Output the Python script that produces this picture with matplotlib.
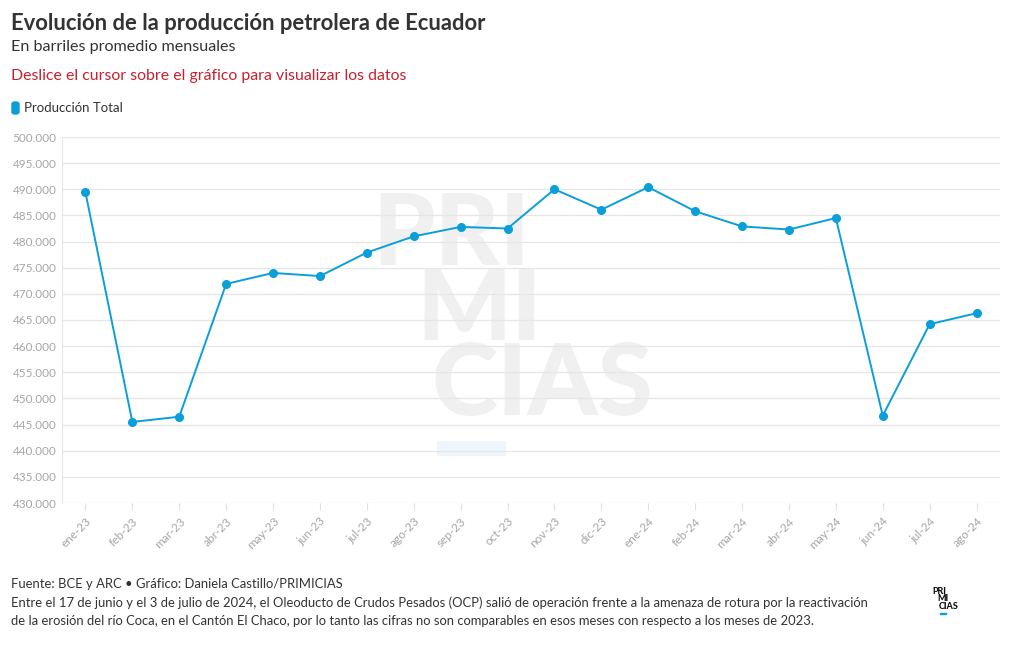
import numpy as np
import matplotlib.pyplot as plt
from matplotlib.patches import FancyBboxPatch, Rectangle

plt.rcParams['font.family'] = ['Lato', 'DejaVu Sans']

# Datos
meses = ['ene-23', 'feb-23', 'mar-23', 'abr-23', 'may-23', 'jun-23', 'jul-23',
         'ago-23', 'sep-23', 'oct-23', 'nov-23', 'dic-23', 'ene-24', 'feb-24',
         'mar-24', 'abr-24', 'may-24', 'jun-24', 'jul-24', 'ago-24']
produccion = [489400, 445500, 446500, 471900, 474000, 473400, 477900,
              481000, 482800, 482500, 490000, 486100, 490400, 485800,
              482900, 482300, 484500, 446700, 464200, 466300]
y_ticks = list(range(430000, 500001, 5000))

azul = '#0a9fd8'
gris_txt = '#a6a6a6'

fig = plt.figure(figsize=(10.2, 6.5), dpi=100)
ax = fig.add_axes([62 / 1020, 1 - 503 / 650, 938 / 1020, 366 / 650])
ax.set_axisbelow(True)

x = np.arange(len(meses))
# marca de agua (debajo de la cuadrícula y la línea)
for txt, xx, yy in [('PRI', 372, 265), ('MI', 416, 340), ('CIAS', 432, 415)]:
    ax.text(xx / 1020, 1 - yy / 650, txt, fontsize=72, fontweight='black',
            color='#f0f0f0', ha='left', va='baseline', zorder=0.1,
            transform=fig.transFigure)
ax.add_patch(Rectangle((437 / 1020, 1 - 455 / 650), 68 / 1020, 14 / 650,
                       transform=fig.transFigure, color='#eef6fc', zorder=0.1))

ax.plot(x, produccion, color=azul, lw=1.4, marker='o', ms=5.5, zorder=3)

ax.set_ylim(430000, 500000)
ax.set_xlim(-0.5, len(meses) - 0.5)
ax.set_yticks(y_ticks)
ax.set_yticklabels([f'{v:,}'.replace(',', '.') for v in y_ticks])
ax.set_xticks(x)
ax.set_xticklabels(meses, rotation=45, ha='right', rotation_mode='anchor')
ax.grid(axis='y', color='#e6e6e6', lw=0.9)
ax.tick_params(axis='y', length=0, labelsize=8.5, labelcolor=gris_txt, pad=4)
ax.tick_params(axis='x', length=5, color='#e0e0e0', labelsize=8.5,
               labelcolor=gris_txt, pad=4)
for s in ['top', 'right', 'bottom']:
    ax.spines[s].set_visible(False)
ax.spines['left'].set_color('#e6e6e6')

# Títulos
fig.text(11 / 1020, 1 - 24 / 650, 'Evolución de la producción petrolera de Ecuador',
         fontsize=15.8, fontweight='bold', color='#333333', va='center')
fig.text(11 / 1020, 1 - 47 / 650, 'En barriles promedio mensuales',
         fontsize=11.6, color='#333333', va='center')
fig.text(11 / 1020, 1 - 76 / 650, 'Deslice el cursor sobre el gráfico para visualizar los datos',
         fontsize=11.4, color='#c8202f', va='center')

# Leyenda
fig.patches.append(FancyBboxPatch((12 / 1020, 1 - 114 / 650), 7 / 1020, 12 / 650,
                                  boxstyle='round,pad=0,rounding_size=0.003',
                                  transform=fig.transFigure, color=azul))
fig.text(24 / 1020, 1 - 108 / 650, 'Producción Total', fontsize=9.5,
         color='#333333', va='center')

# Pie
pie = ('Fuente: BCE y ARC • Gráfico: Daniela Castillo/PRIMICIAS\n'
       'Entre el 17 de junio y el 3 de julio de 2024, el Oleoducto de Crudos Pesados (OCP) salió de operación frente a la amenaza de rotura por la reactivación\n'
       'de la erosión del río Coca, en el Cantón El Chaco, por lo tanto las cifras no son comparables en esos meses con respecto a los meses de 2023.')
fig.text(11 / 1020, 1 - 578 / 650, pie, fontsize=9.4, color='#333333',
         va='top', linespacing=1.6)

# Logo
for txt, xx, yy in [('PRI', 932, 594), ('MI', 937, 601), ('CIAS', 939, 609)]:
    fig.text(xx / 1020, 1 - yy / 650, txt, fontsize=6.5, fontweight='black',
             color='#111111', ha='left', va='baseline')
fig.patches.append(Rectangle((940 / 1020, 1 - 614 / 650), 6 / 1020, 1.5 / 650,
                             transform=fig.transFigure, color=azul))

fig.savefig('out.png', dpi=100)
